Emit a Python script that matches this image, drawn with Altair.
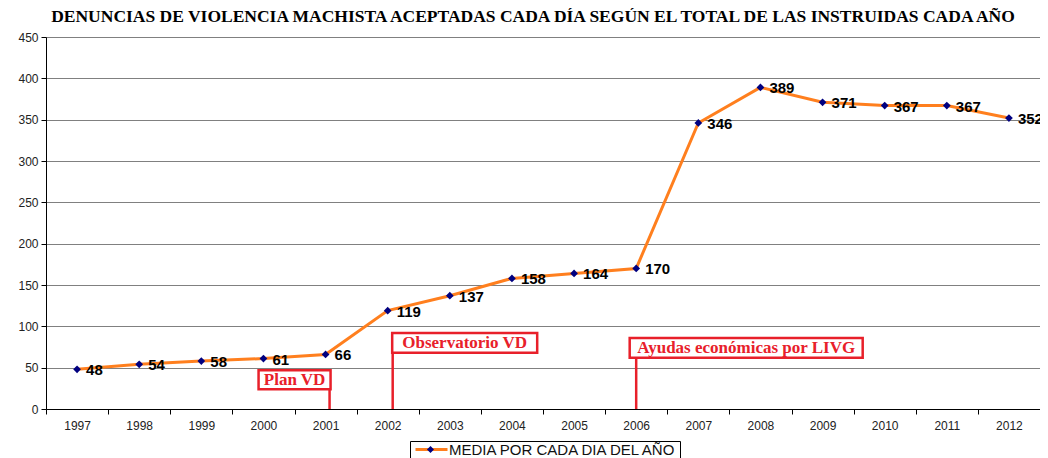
import altair as alt
import pandas as pd

years = [str(y) for y in range(1997, 2013)]
values = [48, 54, 58, 61, 66, 119, 137, 158, 164, 170, 346, 389, 371, 367, 367, 352]
serie = "MEDIA POR CADA DIA DEL AÑO"

ann_years = ["2001", "2002", "2006"]
ann_labels = ["Plan VD", "Observatorio VD", "Ayudas económicas por LIVG"]
ann_low = [24, 68, 62]
ann_high = [47, 92, 86]

df = pd.DataFrame({"year": years, "value": values, "serie": [serie] * len(years)})

RED = "#E8202A"
ORANGE = "#FF7F1E"
NAVY = "#000080"

x = alt.X("year:N", title=None, sort=years,
          axis=alt.Axis(labelAngle=0, tickBand="extent", grid=False, domainColor="black",
                        tickColor="black", tickSize=5, labelFont="Liberation Sans",
                        labelFontSize=12, labelColor="#222", labelPadding=6))
y = alt.Y("value:Q", title=None, scale=alt.Scale(domain=[0, 450], nice=False),
          axis=alt.Axis(values=list(range(0, 451, 50)), gridColor="#808080", gridOpacity=1,
                        domainColor="black", tickColor="black", tickSize=5,
                        labelFont="Liberation Sans", labelFontSize=12, labelColor="#222",
                        labelPadding=3))

line = alt.Chart(df).mark_line(strokeWidth=3).encode(
    x=x, y=y,
    stroke=alt.Stroke("serie:N", scale=alt.Scale(range=[ORANGE]),
                      legend=alt.Legend(title=None, orient="none", legendX=364, legendY=404,
                                        symbolType="M-4,0L4,0", symbolSize=64, symbolStrokeWidth=3,
                                        symbolOffset=13,
                                        strokeColor="black", fillColor="white", padding=1,
                                        labelFont="Liberation Sans", labelFontSize=15,
                                        labelLimit=400,
                                        labelColor="#111", labelOffset=10)),
)
points = alt.Chart(df).mark_point(shape="diamond", filled=True, size=60, opacity=1).encode(
    x=x, y=y,
    fill=alt.Fill("serie:N", scale=alt.Scale(range=[NAVY]),
                  legend=alt.Legend(title=None, orient="none", legendX=376, legendY=404,
                                    symbolType="diamond", symbolSize=50, padding=1,
                                    symbolStrokeWidth=0, labelLimit=400,
                                    labelFont="Liberation Sans", labelFontSize=15,
                                    labelColor="transparent", labelOffset=16)),
)
labels = alt.Chart(df).mark_text(align="left", baseline="middle", dx=9, dy=1,
                                 font="Liberation Sans", fontWeight="bold", fontSize=15,
                                 color="black").encode(x=x, y=y, text="value:Q")

layers = [line, points, labels]

box_offsets = [-31, 77, 110]
box_widths = [72, 145, 233]
rule_offsets = [4, 5, 0]
for i in range(3):
    a = pd.DataFrame({"year": [ann_years[i]], "label": [ann_labels[i]],
                      "low": [ann_low[i]], "high": [ann_high[i]],
                      "mid": [(ann_low[i] + ann_high[i]) / 2], "zero": [0]})
    base = alt.Chart(a)
    layers.append(base.mark_rule(color=RED, strokeWidth=2.5, xOffset=rule_offsets[i]).encode(
        x=alt.X("year:N", sort=years), y="zero:Q", y2="low:Q"))
    layers.append(base.mark_bar(width=box_widths[i], xOffset=box_offsets[i], fillOpacity=0,
                                stroke=RED, strokeWidth=2.5).encode(
        x=alt.X("year:N", sort=years), y="low:Q", y2="high:Q"))
    layers.append(base.mark_text(xOffset=box_offsets[i], color=RED, font="Liberation Serif",
                                 fontWeight="bold", fontSize=17, baseline="middle").encode(
        x=alt.X("year:N", sort=years), y="mid:Q", text="label:N"))

chart = alt.layer(*layers).resolve_scale(stroke="independent", fill="independent").properties(
    width=994, height=372,
    autosize=alt.AutoSizeParams(type="none"),
    padding={"left": 38, "top": 29, "right": 0, "bottom": 49},
    title=alt.Title("DENUNCIAS DE VIOLENCIA MACHISTA ACEPTADAS CADA DÍA SEGÚN EL TOTAL DE LAS INSTRUIDAS CADA AÑO",
                    font="Liberation Serif", fontSize=17.5, fontWeight="bold", color="black",
                    anchor="middle", offset=6, dx=-10),
).configure_view(fill="#C0C0C0", stroke="#808080").configure(background="white")

chart.save("out.html", embed_options={"renderer": "svg", "actions": False})
